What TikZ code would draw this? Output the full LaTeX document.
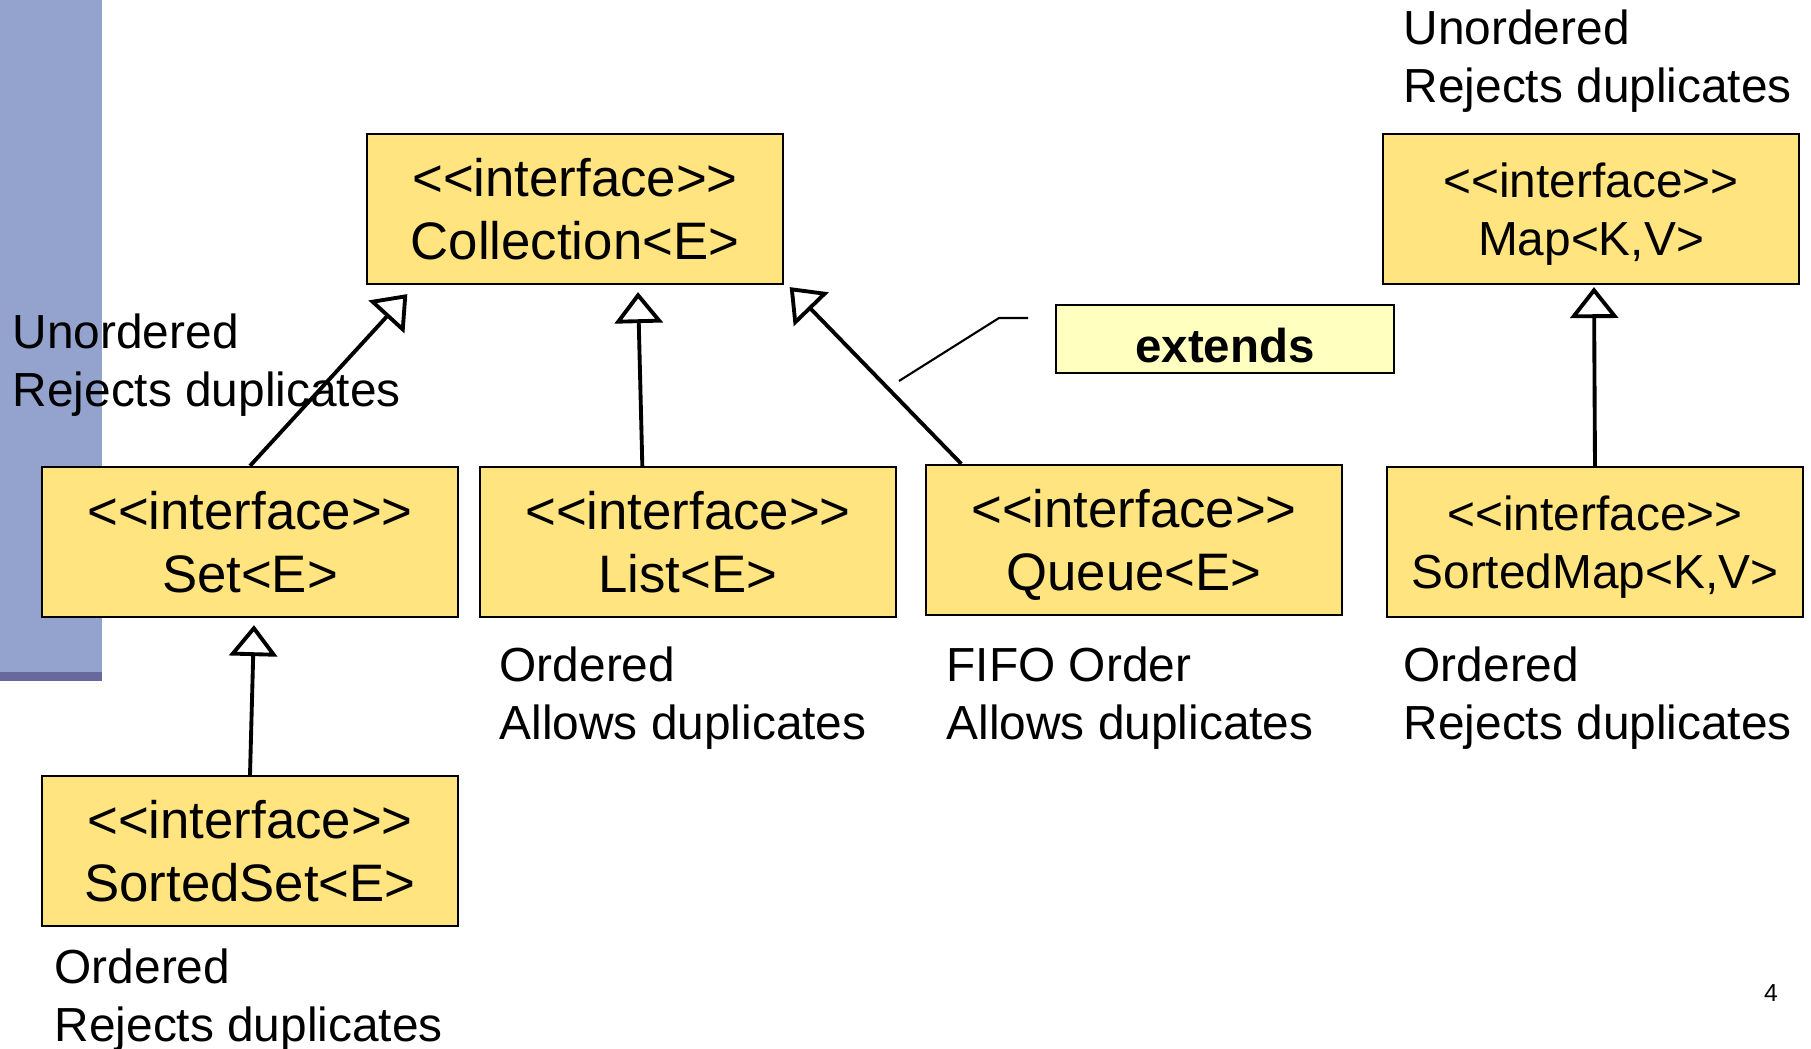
\documentclass[tikz,border=0pt]{standalone}
\usepackage{fontspec}
\setmainfont{Liberation Sans}[Ligatures=TeXOff]
\usetikzlibrary{calc,arrows.meta}
\definecolor{ifyellow}{RGB}{255,228,128}
\definecolor{notefill}{RGB}{255,255,192}
\definecolor{barblue}{RGB}{148,162,206}
\definecolor{bardark}{RGB}{104,104,156}
\newcommand{\nodepth}[1]{\raisebox{0pt}[\height][0pt]{#1}}

\begin{document}
\begin{tikzpicture}[x=0.01cm,y=-0.01cm,
  iface/.style={draw,line width=0.6pt,fill=ifyellow,minimum width=4.15cm,minimum height=1.5cm,align=center,inner sep=0pt,font=\fontsize{15}{18.1}\selectfont},
  smallface/.style={iface,font=\fontsize{13.6}{16.5}\selectfont},
  note/.style={anchor=north west,align=left,inner sep=0pt,font=\fontsize{13.6}{16.5}\selectfont},
  extarrow/.style={-{Triangle[open,width=0.48cm,length=0.31cm]},line width=1.1pt}]
  \useasboundingbox (0,0) rectangle (1811,1049);
  \fill[barblue] (0,0) rectangle (102,672);
  \fill[bardark] (0,672) rectangle (102,681);

  \node[iface] (coll) at (575,209) {<<interface>>\\\nodepth{Collection<E>}};
  \node[smallface] (map) at (1591,209) {<<interface>>\\\nodepth{Map<K,V>}};
  \node[iface] (set) at (250,542) {<<interface>>\\\nodepth{Set<E>}};
  \node[iface] (list) at (688,542) {<<interface>>\\\nodepth{List<E>}};
  \node[iface] (queue) at (1134,540) {<<interface>>\\\nodepth{Queue<E>}};
  \node[smallface] (smap) at (1595,542) {<<interface>>\\\nodepth{SortedMap<K,V>}};
  \node[iface] (sset) at (250,851) {<<interface>>\\\nodepth{SortedSet<E>}};

  \node[draw,line width=0.6pt,fill=notefill,minimum width=3.37cm,minimum height=0.68cm,inner sep=0pt,text height=13.1pt,text depth=0pt,font=\fontsize{13.5}{16}\selectfont\bfseries] (extnote) at (1225,339) {extends};

  \node[note] (mapnote) at (1403,9) {Unordered\\Rejects duplicates};
  \node[note] (setnote) at (12,313) {Unordered\\Rejects duplicates};
  \node[note] (listnote) at (499,646) {Ordered\\Allows duplicates};
  \node[note] (queuenote) at (946,646) {FIFO Order\\Allows duplicates};
  \node[note] (smapnote) at (1403,646) {Ordered\\Rejects duplicates};
  \node[note] (ssetnote) at (54,948) {Ordered\\Rejects duplicates};
  \node[font=\fontsize{7}{8}\selectfont] (page) at (1771,993) {4};

  \draw[extarrow] (set.north) -- ($(coll.south west)+(41,9)$);
  \draw[extarrow] ($(list.north west)+(163,0)$) -- ($(coll.south)+(63,7)$);
  \draw[extarrow] ($(queue.north west)+(36,0)$) -- ($(coll.south east)+(6,2)$);
  \draw[extarrow] (sset.north) -- ($(set.south)+(4,7)$);
  \draw[extarrow] (smap.north) -- ($(map.south)+(3,2)$);

  \coordinate (cfoot) at (899,381);
  \coordinate (cknee) at (999,318);
  \coordinate (chead) at (1028,318);
  \draw[line width=0.6pt] (cfoot) -- (cknee) -- (chead);
\end{tikzpicture}
\end{document}
